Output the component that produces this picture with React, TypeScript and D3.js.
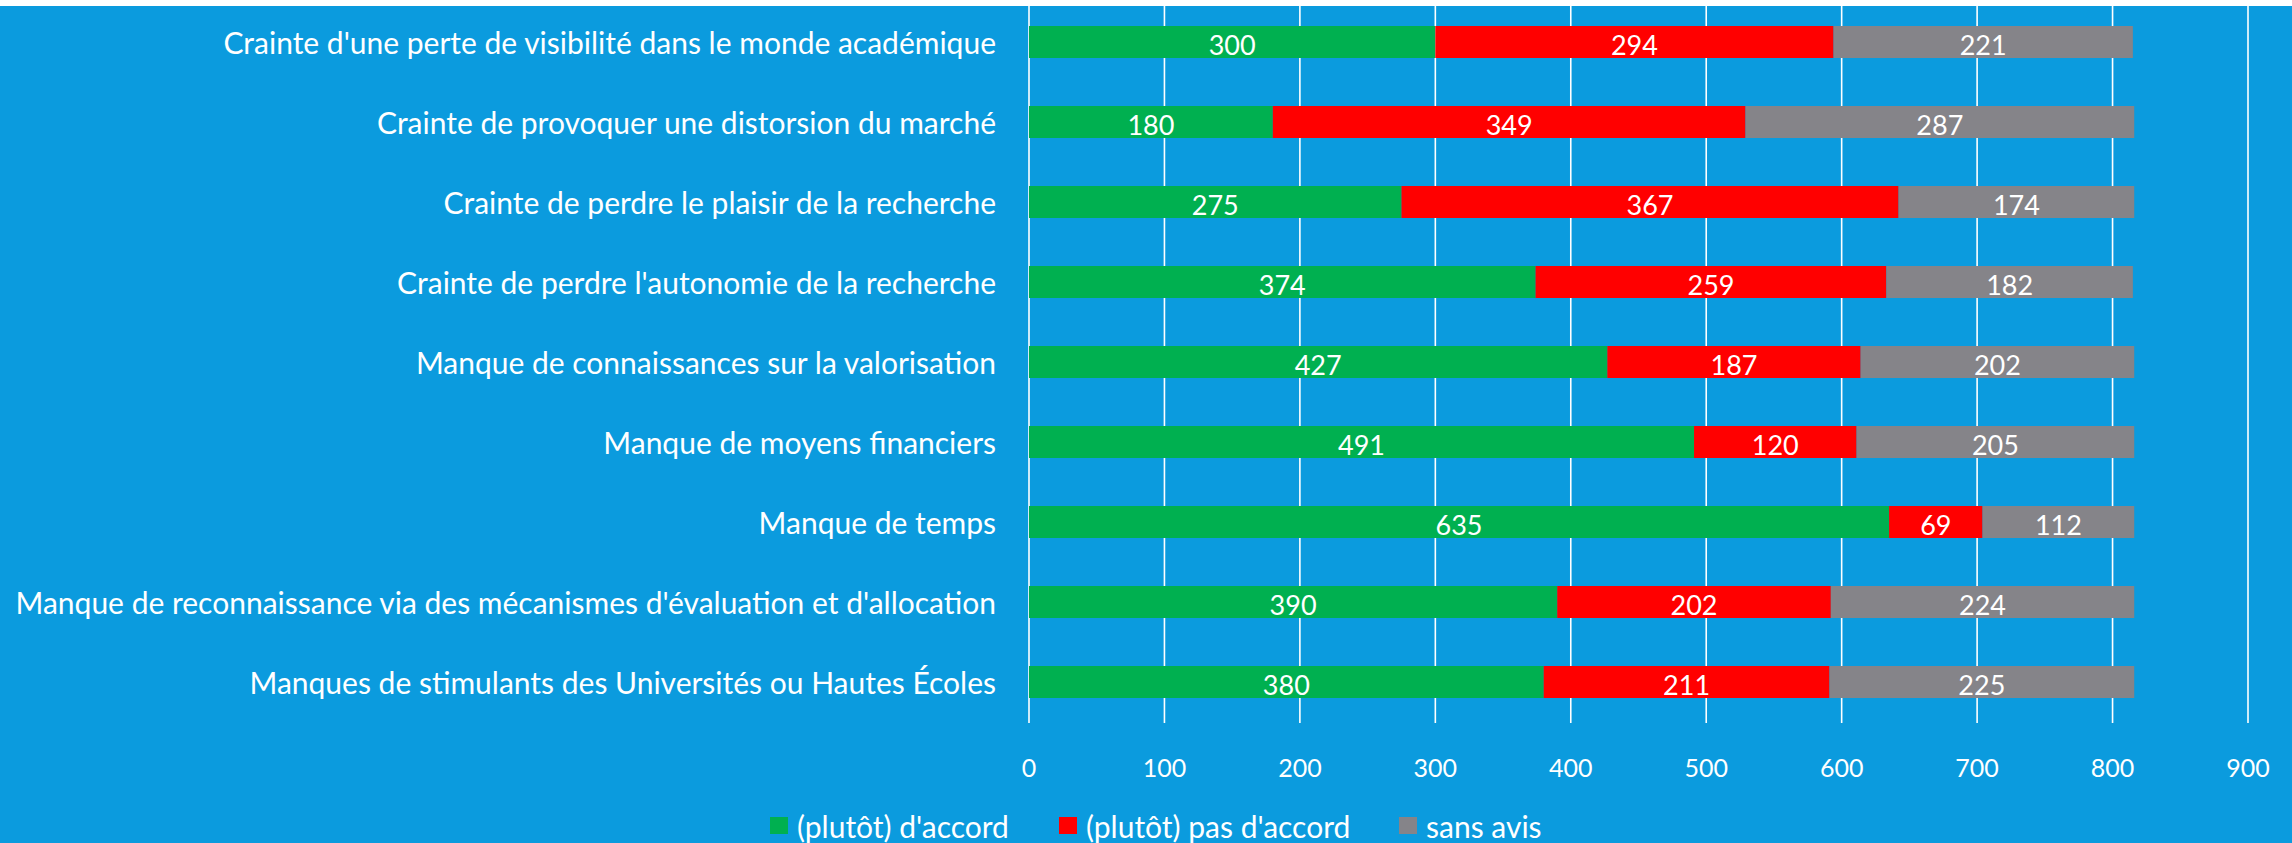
import React from "react";
import * as d3 from "d3";

const categories = [
  "Crainte d'une perte de visibilité dans le monde académique",
  "Crainte de provoquer une distorsion du marché",
  "Crainte de perdre le plaisir de la recherche",
  "Crainte de perdre l'autonomie de la recherche",
  "Manque de connaissances sur la valorisation",
  "Manque de moyens financiers",
  "Manque de temps",
  "Manque de reconnaissance via des mécanismes d'évaluation et d'allocation",
  "Manques de stimulants des Universités ou Hautes Écoles",
];
const agree = [300, 180, 275, 374, 427, 491, 635, 390, 380];
const disagree = [294, 349, 367, 259, 187, 120, 69, 202, 211];
const noOpinion = [221, 287, 174, 182, 202, 205, 112, 224, 225];
const seriesNames = ["(plutôt) d'accord", "(plutôt) pas d'accord", "sans avis"];
const seriesColors = ["#00b050", "#ff0000", "#858489"];
const xTicks = [0, 100, 200, 300, 400, 500, 600, 700, 800, 900];

const W = 2292;
const H = 843;
const BG = "#0b9bde";
const FONT = "Lato, 'Open Sans', sans-serif";

export default function App() {
  const x = d3.scaleLinear().domain([0, 900]).range([1029, 2248]);
  const y = d3
    .scaleBand<string>()
    .domain(categories)
    .range([2, 722])
    .paddingInner(0.6)
    .paddingOuter(0.3);

  const data = categories.map((c, i) => ({
    cat: c,
    vals: [agree[i], disagree[i], noOpinion[i]],
  }));
  const stack = d3
    .stack<any>()
    .keys(["0", "1", "2"])
    .value((d: any, k: string) => d.vals[+k]);
  const stacked = stack(data as any);

  const legendX = [770, 1059, 1399];

  return (
    <svg
      width={W}
      height={H}
      style={{ position: "absolute", left: 0, top: 0, display: "block" }}
      fontFamily={FONT}
    >
      <rect x={0} y={0} width={W} height={H} fill="#ffffff" />
      <rect x={0} y={6} width={W} height={H - 6} fill={BG} />
      {xTicks.map((t) => (
        <line
          key={"g" + t}
          x1={x(t)}
          x2={x(t)}
          y1={6}
          y2={723}
          stroke="#ffffff"
          strokeWidth={1.6}
        />
      ))}
      {stacked.map((layer, si) => (
        <g key={"s" + si} fill={seriesColors[si]}>
          {layer.map((d: any, i: number) => (
            <rect
              key={i}
              x={x(d[0])}
              y={y(categories[i])!}
              width={x(d[1]) - x(d[0])}
              height={y.bandwidth()}
            />
          ))}
        </g>
      ))}
      {stacked.map((layer, si) => (
        <g key={"l" + si} fill="#ffffff" fontSize={27} textAnchor="middle">
          {layer.map((d: any, i: number) => (
            <text
              key={i}
              x={(x(d[0]) + x(d[1])) / 2}
              y={y(categories[i])! + y.bandwidth() / 2 + 2}
              dominantBaseline="central"
            >
              {d.data.vals[si]}
            </text>
          ))}
        </g>
      ))}
      {categories.map((c) => (
        <text
          key={c}
          x={996}
          y={y(c)! + y.bandwidth() / 2}
          textAnchor="end"
          dominantBaseline="central"
          fill="#ffffff"
          fontSize={30}
        >
          {c}
        </text>
      ))}
      {xTicks.map((t) => (
        <text
          key={"t" + t}
          x={x(t)}
          y={767}
          textAnchor="middle"
          dominantBaseline="central"
          fill="#ffffff"
          fontSize={25}
        >
          {t}
        </text>
      ))}
      {seriesNames.map((n, i) => (
        <g key={n}>
          <rect x={legendX[i]} y={817} width={18} height={17} fill={seriesColors[i]} />
          <text
            x={legendX[i] + 27}
            y={826}
            dominantBaseline="central"
            fill="#ffffff"
            fontSize={30}
          >
            {n}
          </text>
        </g>
      ))}
    </svg>
  );
}
